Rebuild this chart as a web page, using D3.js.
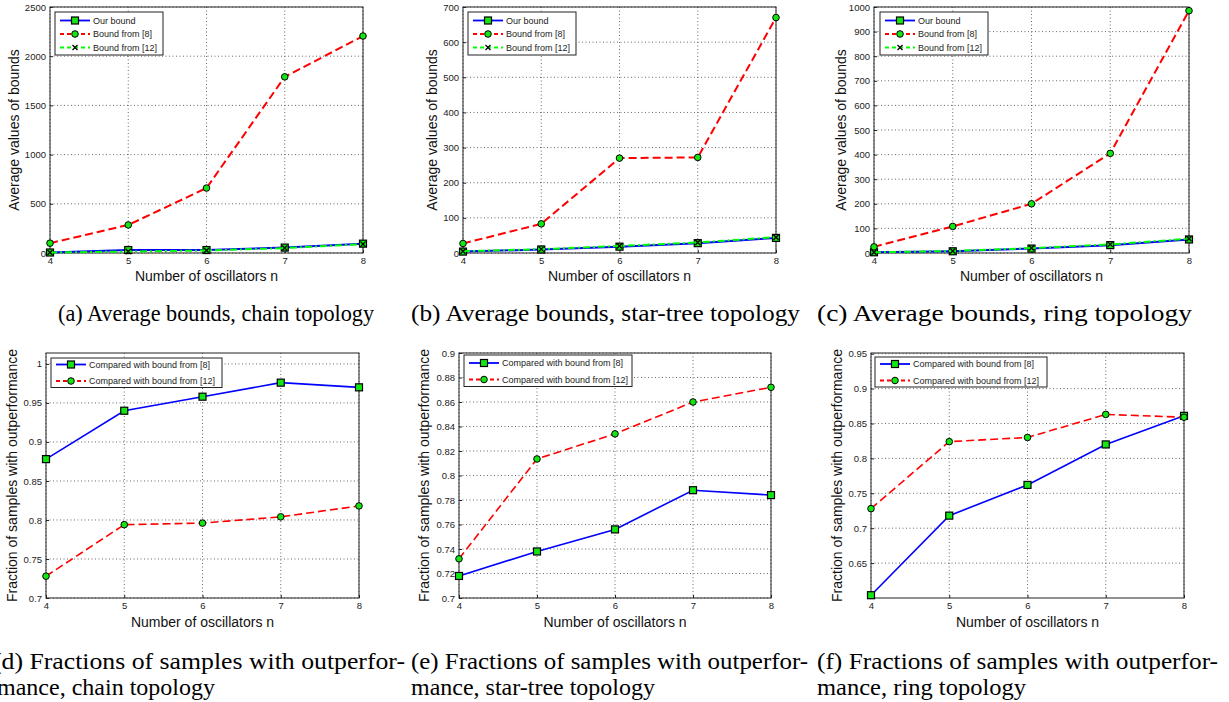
<!DOCTYPE html>
<html>
<head>
<meta charset="utf-8">
<script src="https://cdn.jsdelivr.net/npm/d3@7"></script>
<style>
body { margin: 0; background: #fff; }
svg { display: block; }
</style>
</head>
<body>
<div id="fig"></div>
<script>
// number of oscillators on the x axis
var nVals = [4, 5, 6, 7, 8];

// average bound values (top row)
var chainOur = [5, 30, 30, 55, 95];
var chainB8  = [100, 285, 660, 1790, 2205];
var chainB12 = [5, 15, 25, 50, 90];

var starOur = [4, 10, 18, 28, 43];
var starB8  = [27, 83, 270, 272, 670];
var starB12 = [5, 11, 20, 30, 45];

var ringOur = [3, 7, 18, 32, 55];
var ringB8  = [25, 108, 200, 405, 985];
var ringB12 = [3, 8, 20, 35, 58];

// fractions of samples with outperformance (bottom row)
var chainFrac8  = [0.878, 0.940, 0.958, 0.976, 0.970];
var chainFrac12 = [0.728, 0.794, 0.796, 0.804, 0.818];
var starFrac8   = [0.718, 0.738, 0.756, 0.788, 0.784];
var starFrac12  = [0.732, 0.8135, 0.834, 0.860, 0.872];
var ringFrac8   = [0.604, 0.718, 0.762, 0.820, 0.861];
var ringFrac12  = [0.728, 0.824, 0.830, 0.863, 0.859];

// tick values
var ticksChain = [0, 500, 1000, 1500, 2000, 2500];
var ticksStar  = [0, 100, 200, 300, 400, 500, 600, 700];
var ticksRing  = [0, 100, 200, 300, 400, 500, 600, 700, 800, 900, 1000];
var ticksFracChain = [0.7, 0.75, 0.8, 0.85, 0.9, 0.95, 1];
var ticksFracStar  = [0.7, 0.72, 0.74, 0.76, 0.78, 0.8, 0.82, 0.84, 0.86, 0.88, 0.9];
var ticksFracRing  = [0.65, 0.7, 0.75, 0.8, 0.85, 0.9, 0.95];

var legendTop = ["Our bound", "Bound from [8]", "Bound from [12]"];
var legendBottom = ["Compared with bound from [8]", "Compared with bound from [12]"];

var captionsTop = ["(a) Average bounds, chain topology", "(b) Average bounds, star-tree topology", "(c) Average bounds, ring topology"];
var captionsBottom1 = ["(d) Fractions of samples with outperfor-", "(e) Fractions of samples with outperfor-", "(f) Fractions of samples with outperfor-"];
var captionsBottom2 = ["mance, chain topology", "mance, star-tree topology", "mance, ring topology"];

var W = 1229, H = 702;
var sansFont = "'Liberation Sans', Arial, Helvetica, sans-serif";
var serifFont = "'Liberation Serif', 'Times New Roman', serif";
var GREEN = "#13e613";

var svg = d3.select("#fig").append("svg")
	.attr("width", W)
	.attr("height", H);

// line styles
var styleBlue  = { color: "#0000ff", dash: null, marker: "square" };
var styleRed   = { color: "#ff0000", dash: "8,4", marker: "circle" };
var styleGreen = { color: "#00ff00", dash: "7,3,2,3", marker: "x" };

function drawMarker(g, kind, x, y)
{
	if (kind == "square") {
		g.append("rect")
			.attr("x", x - 3.5).attr("y", y - 3.5)
			.attr("width", 7).attr("height", 7)
			.attr("fill", GREEN).attr("stroke", "#000").attr("stroke-width", 1.2);
	} else if (kind == "circle") {
		g.append("circle")
			.attr("cx", x).attr("cy", y).attr("r", 3.3)
			.attr("fill", GREEN).attr("stroke", "#000").attr("stroke-width", 1);
	} else {
		g.append("path")
			.attr("d", "M" + (x-2.5) + "," + (y-2.5) + "L" + (x+2.5) + "," + (y+2.5) +
				"M" + (x-2.5) + "," + (y+2.5) + "L" + (x+2.5) + "," + (y-2.5))
			.attr("stroke", "#000").attr("stroke-width", 1.3).attr("fill", "none");
	}
}

function drawPanel(cfg)
{
	var g = svg.append("g");
	var x = d3.scaleLinear().domain([4, 8]).range([cfg.left, cfg.right]);
	var y = d3.scaleLinear().domain(cfg.yDomain).range([cfg.bottom, cfg.top]);

	// white plot area
	g.append("rect")
		.attr("x", cfg.left).attr("y", cfg.top)
		.attr("width", cfg.right - cfg.left).attr("height", cfg.bottom - cfg.top)
		.attr("fill", "#fff");

	// dotted grid
	g.selectAll(".gx").data(nVals).enter().append("line")
		.attr("x1", function(d) { return x(d); }).attr("x2", function(d) { return x(d); })
		.attr("y1", cfg.top).attr("y2", cfg.bottom)
		.attr("stroke", "#444").attr("stroke-width", 0.8).attr("stroke-dasharray", "1,2.5");
	g.selectAll(".gy").data(cfg.yTicks).enter().append("line")
		.attr("x1", cfg.left).attr("x2", cfg.right)
		.attr("y1", function(d) { return y(d); }).attr("y2", function(d) { return y(d); })
		.attr("stroke", "#444").attr("stroke-width", 0.8).attr("stroke-dasharray", "1,2.5");

	// axes with inward ticks
	var ax = g.append("g").attr("transform", "translate(0," + cfg.bottom + ")")
		.call(d3.axisBottom(x).tickValues(nVals).tickFormat(d3.format("d"))
			.tickSizeInner(-3).tickSizeOuter(0).tickPadding(4));
	var ay = g.append("g").attr("transform", "translate(" + cfg.left + ",0)")
		.call(d3.axisLeft(y).tickValues(cfg.yTicks).tickFormat(function(d) { return String(d); })
			.tickSizeInner(-3).tickSizeOuter(0).tickPadding(4));
	[ax, ay].forEach(function(a) {
		a.select(".domain").remove();
		a.selectAll("text").attr("font-family", sansFont).attr("font-size", "9.5px").attr("fill", "#222");
		a.selectAll("line").attr("stroke", "#222");
	});

	// box
	g.append("rect")
		.attr("x", cfg.left).attr("y", cfg.top)
		.attr("width", cfg.right - cfg.left).attr("height", cfg.bottom - cfg.top)
		.attr("fill", "none").attr("stroke", "#222").attr("stroke-width", 1);

	// series
	var line = d3.line()
		.x(function(d, i) { return x(nVals[i]); })
		.y(function(d) { return y(d); });
	cfg.series.forEach(function(s) {
		g.append("path")
			.attr("d", line(s.values))
			.attr("fill", "none")
			.attr("stroke", s.style.color)
			.attr("stroke-width", cfg.lineWidth)
			.attr("stroke-dasharray", s.style.dash);
		s.values.forEach(function(v, i) { drawMarker(g, s.style.marker, x(nVals[i]), y(v)); });
	});

	// legend
	var lg = cfg.legend;
	g.append("rect")
		.attr("x", lg.x).attr("y", lg.y).attr("width", lg.w).attr("height", lg.h)
		.attr("fill", "#fff").attr("stroke", "#222").attr("stroke-width", 1);
	cfg.series.forEach(function(s, i) {
		var ry = lg.y + lg.first + i * lg.step;
		g.append("line")
			.attr("x1", lg.x + 5).attr("x2", lg.x + 35)
			.attr("y1", ry).attr("y2", ry)
			.attr("stroke", s.style.color).attr("stroke-width", 1.8)
			.attr("stroke-dasharray", s.style.dash ? "4,3" : null);
		drawMarker(g, s.style.marker, lg.x + 20, ry);
		g.append("text")
			.attr("x", lg.x + 38).attr("y", ry + 3.2)
			.attr("font-family", sansFont).attr("font-size", "9px").attr("fill", "#222")
			.text(s.name);
	});

	// axis labels
	g.append("text")
		.attr("x", (cfg.left + cfg.right) / 2).attr("y", cfg.xLabelY)
		.attr("text-anchor", "middle")
		.attr("font-family", sansFont).attr("font-size", "14px").attr("fill", "#111")
		.text("Number of oscillators n");
	g.append("text")
		.attr("transform", "translate(" + cfg.yLabelX + "," + ((cfg.top + cfg.bottom) / 2) + ") rotate(-90)")
		.attr("text-anchor", "middle")
		.attr("font-family", sansFont).attr("font-size", "14px").attr("fill", "#111")
		.text(cfg.yLabel);
}

var topLabel = "Average values of bounds";
var botLabel = "Fraction of samples with outperformance";

drawPanel({ left: 50, right: 363, top: 7, bottom: 253, yDomain: [0, 2500], yTicks: ticksChain,
	lineWidth: 2, xLabelY: 281, yLabelX: 19, yLabel: topLabel,
	legend: { x: 55, y: 12, w: 108, h: 43, first: 8.5, step: 13.5 },
	series: [ { name: legendTop[0], values: chainOur, style: styleBlue },
	          { name: legendTop[1], values: chainB8, style: styleRed },
	          { name: legendTop[2], values: chainB12, style: styleGreen } ] });

drawPanel({ left: 463, right: 776, top: 7, bottom: 253, yDomain: [0, 700], yTicks: ticksStar,
	lineWidth: 2, xLabelY: 281, yLabelX: 437, yLabel: topLabel,
	legend: { x: 468, y: 12, w: 108, h: 43, first: 8.5, step: 13.5 },
	series: [ { name: legendTop[0], values: starOur, style: styleBlue },
	          { name: legendTop[1], values: starB8, style: styleRed },
	          { name: legendTop[2], values: starB12, style: styleGreen } ] });

drawPanel({ left: 874, right: 1189, top: 7, bottom: 253, yDomain: [0, 1000], yTicks: ticksRing,
	lineWidth: 2, xLabelY: 281, yLabelX: 846, yLabel: topLabel,
	legend: { x: 880, y: 12, w: 108, h: 43, first: 8.5, step: 13.5 },
	series: [ { name: legendTop[0], values: ringOur, style: styleBlue },
	          { name: legendTop[1], values: ringB8, style: styleRed },
	          { name: legendTop[2], values: ringB12, style: styleGreen } ] });

drawPanel({ left: 46, right: 359, top: 353, bottom: 598, yDomain: [0.7, 1.014], yTicks: ticksFracChain,
	lineWidth: 1.6, xLabelY: 627, yLabelX: 17, yLabel: botLabel,
	legend: { x: 51, y: 358, w: 171, h: 29.5, first: 6.5, step: 16.5 },
	series: [ { name: legendBottom[0], values: chainFrac8, style: styleBlue },
	          { name: legendBottom[1], values: chainFrac12, style: styleRed } ] });

drawPanel({ left: 459, right: 771, top: 353, bottom: 598, yDomain: [0.7, 0.9], yTicks: ticksFracStar,
	lineWidth: 1.6, xLabelY: 627, yLabelX: 429, yLabel: botLabel,
	legend: { x: 464, y: 355, w: 168, h: 31.5, first: 8, step: 16.5 },
	series: [ { name: legendBottom[0], values: starFrac8, style: styleBlue },
	          { name: legendBottom[1], values: starFrac12, style: styleRed } ] });

drawPanel({ left: 871, right: 1184, top: 353, bottom: 598, yDomain: [0.6, 0.951], yTicks: ticksFracRing,
	lineWidth: 1.6, xLabelY: 627, yLabelX: 842, yLabel: botLabel,
	legend: { x: 875, y: 357, w: 172, h: 30, first: 7, step: 16.5 },
	series: [ { name: legendBottom[0], values: ringFrac8, style: styleBlue },
	          { name: legendBottom[1], values: ringFrac12, style: styleRed } ] });

// sub-figure captions (condensed serif, fitted to the measured widths)
function caption(txt, x, y, w)
{
	svg.append("text")
		.attr("x", x).attr("y", y)
		.attr("textLength", w).attr("lengthAdjust", "spacingAndGlyphs")
		.attr("font-family", serifFont).attr("font-size", "23px").attr("fill", "#000")
		.text(txt);
}
var capTop = [ { x: 58, w: 316 }, { x: 411, w: 389 }, { x: 817, w: 375 } ];
captionsTop.forEach(function(c, i) { caption(c, capTop[i].x, 321, capTop[i].w); });

var capBot = [ { x: -7, w: 412, x2: -3, w2: 218 }, { x: 411, w: 397, x2: 411, w2: 244 }, { x: 817, w: 401, x2: 817, w2: 209 } ];
captionsBottom1.forEach(function(c, i) {
	caption(c, capBot[i].x, 669, capBot[i].w);
	caption(captionsBottom2[i], capBot[i].x2, 695, capBot[i].w2);
});
</script>
</body>
</html>
